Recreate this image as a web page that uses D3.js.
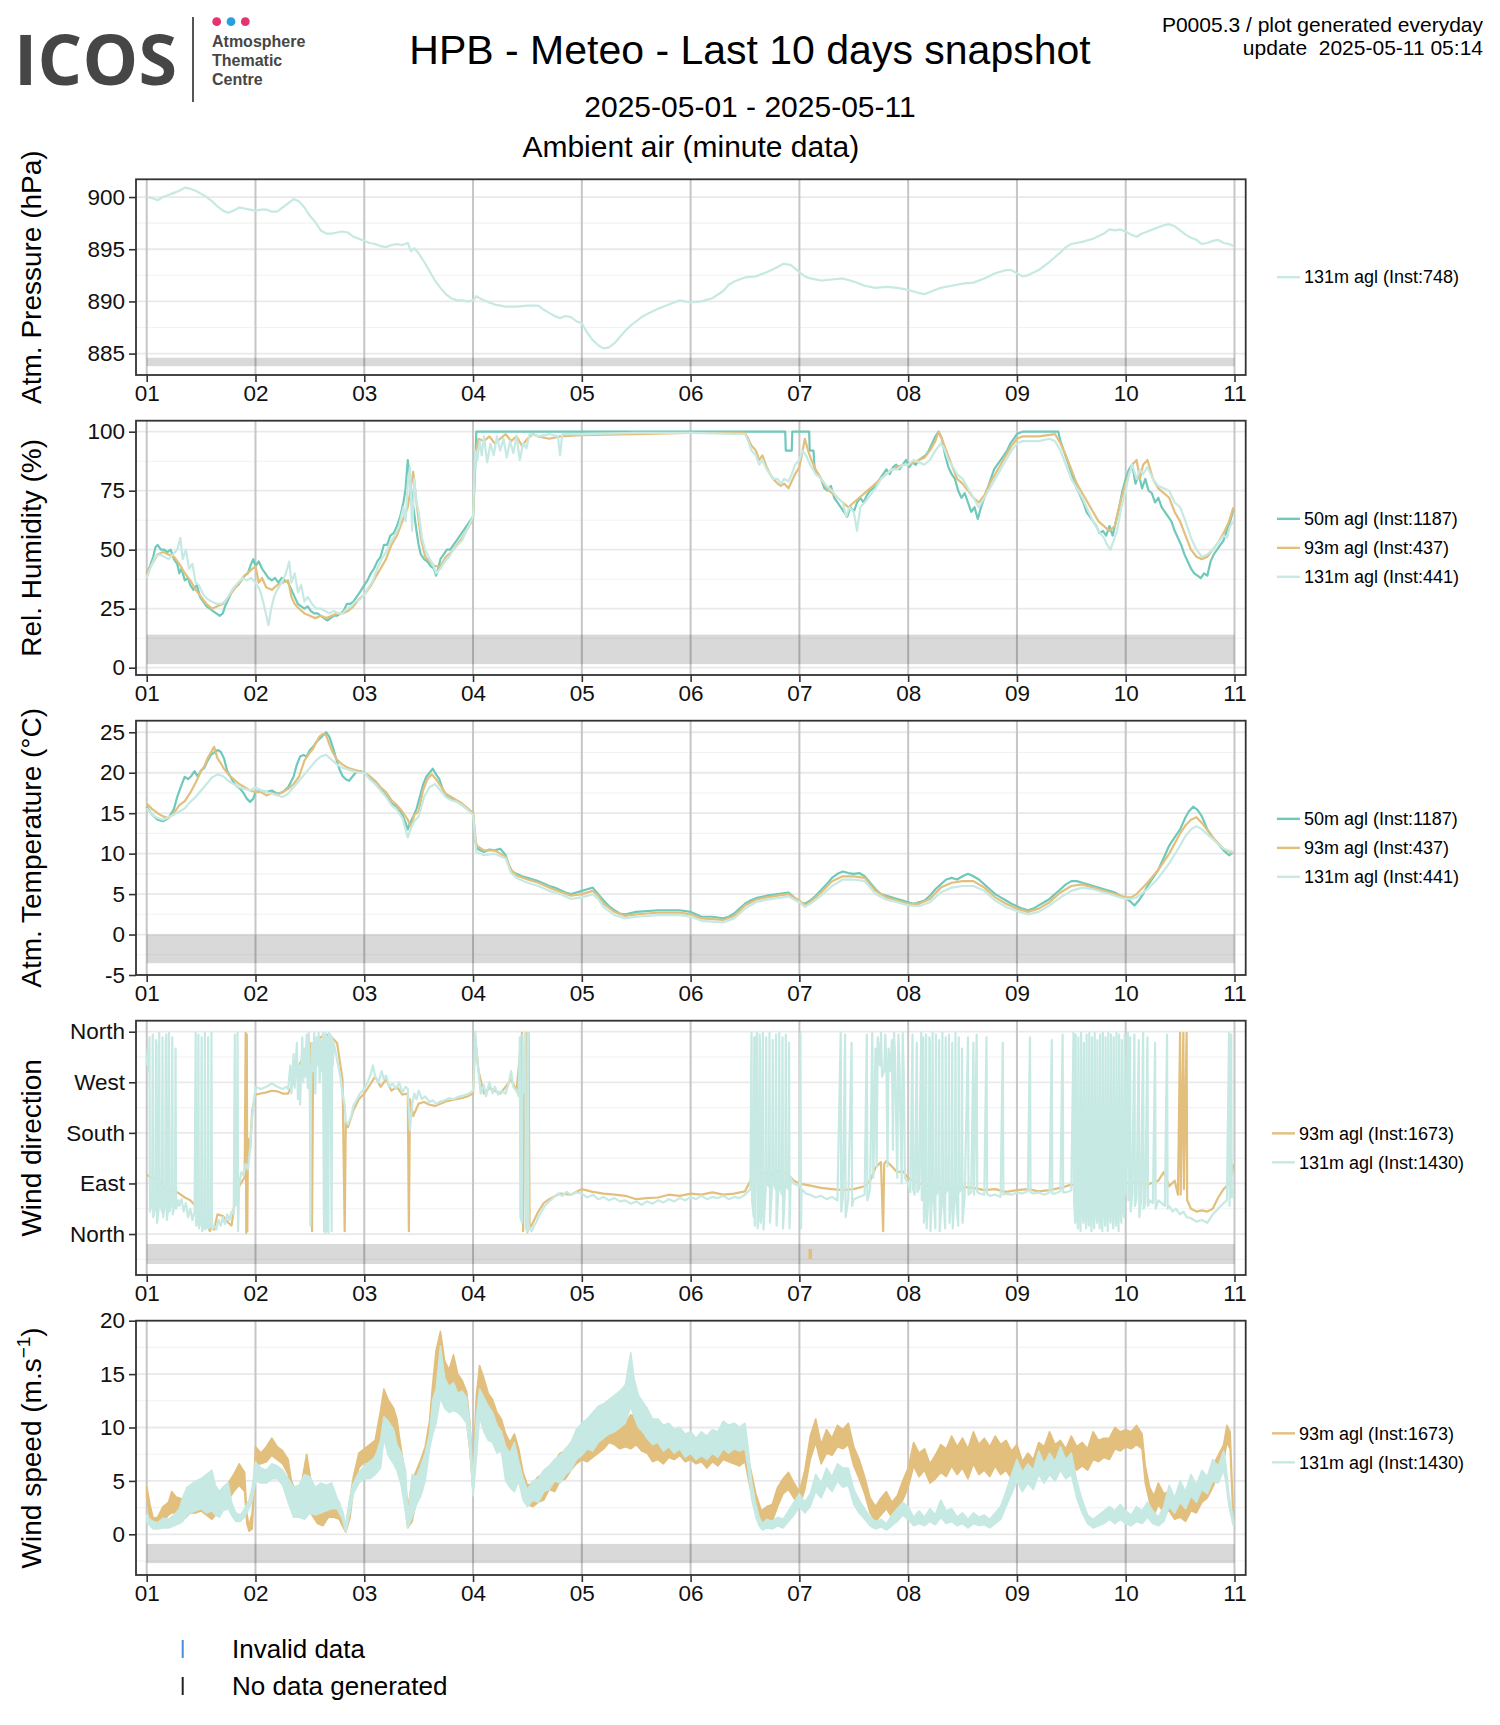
<!DOCTYPE html>
<html>
<head>
<meta charset="utf-8">
<script src="https://cdn.jsdelivr.net/npm/d3@7"></script>
<style>
body { margin: 0; background: #fff; }
text { font-family: "Liberation Sans", Arial, Helvetica, sans-serif; }
</style>
</head>
<body>
<svg width="1500" height="1725"></svg>
<script>
// ------------------DATA------------------
// day of month (decimal) and value
var dies = [1, 2, 3, 4, 5, 6, 7, 8, 9, 10, 11];

var pressio131 = [[1.00,900.0],[1.05,899.9],[1.10,899.7],[1.15,900.0],[1.20,900.2],[1.25,900.4],[1.30,900.6],[1.35,900.9],[1.40,900.8],[1.45,900.6],[1.50,900.3],[1.55,900.0],[1.60,899.6],[1.65,899.1],[1.70,898.7],[1.75,898.5],[1.80,898.7],[1.85,899.0],[1.90,898.9],[1.95,898.8],[2.00,898.7],[2.05,898.8],[2.10,898.8],[2.15,898.6],[2.20,898.6],[2.25,899.0],[2.30,899.4],[2.35,899.8],[2.40,899.6],[2.45,899.0],[2.50,898.2],[2.55,897.6],[2.60,896.8],[2.65,896.5],[2.70,896.5],[2.75,896.6],[2.80,896.7],[2.85,896.6],[2.90,896.2],[2.95,896.0],[3.00,895.8],[3.05,895.6],[3.10,895.5],[3.15,895.3],[3.20,895.2],[3.25,895.4],[3.30,895.5],[3.35,895.4],[3.40,895.6],[3.43,894.8],[3.46,895.1],[3.50,894.6],[3.55,893.8],[3.60,892.9],[3.65,892.0],[3.70,891.3],[3.75,890.7],[3.80,890.3],[3.85,890.1],[3.90,890.1],[3.95,890.0],[4.00,890.1],[4.03,890.5],[4.08,890.2],[4.15,889.9],[4.20,889.7],[4.30,889.5],[4.40,889.5],[4.50,889.6],[4.60,889.6],[4.65,889.2],[4.70,888.9],[4.75,888.6],[4.80,888.4],[4.85,888.6],[4.90,888.5],[4.95,888.1],[5.00,887.9],[5.05,887.0],[5.10,886.3],[5.15,885.8],[5.20,885.5],[5.25,885.6],[5.30,886.0],[5.35,886.6],[5.40,887.2],[5.45,887.7],[5.50,888.1],[5.55,888.5],[5.60,888.8],[5.70,889.3],[5.80,889.7],[5.90,890.1],[6.00,889.9],[6.10,890.0],[6.20,890.3],[6.30,891.0],[6.35,891.6],[6.40,891.9],[6.50,892.3],[6.60,892.4],[6.70,892.8],[6.80,893.3],[6.85,893.6],[6.92,893.5],[7.00,892.8],[7.05,892.4],[7.10,892.2],[7.20,892.0],[7.30,892.1],[7.40,892.2],[7.50,891.9],[7.60,891.5],[7.70,891.3],[7.80,891.4],[7.90,891.3],[8.00,891.1],[8.10,890.8],[8.15,890.7],[8.20,890.9],[8.30,891.3],[8.40,891.5],[8.50,891.7],[8.60,891.8],[8.70,892.2],[8.80,892.7],[8.90,893.0],[8.95,893.0],[9.00,892.7],[9.05,892.4],[9.10,892.5],[9.20,893.0],[9.30,893.8],[9.40,894.7],[9.45,895.2],[9.50,895.5],[9.60,895.7],[9.70,896.0],[9.80,896.5],[9.85,896.9],[9.90,896.8],[9.95,896.9],[10.00,896.7],[10.05,896.4],[10.10,896.2],[10.15,896.5],[10.20,896.7],[10.25,896.9],[10.30,897.1],[10.35,897.3],[10.40,897.4],[10.45,897.2],[10.50,896.8],[10.55,896.4],[10.60,896.1],[10.65,895.9],[10.70,895.5],[10.75,895.6],[10.80,895.8],[10.85,895.9],[10.90,895.6],[10.95,895.5],[10.99,895.3]];

var humitat50 = [[1.00,40],[1.03,43],[1.06,47],[1.08,51],[1.10,52],[1.13,50],[1.16,50],[1.19,49],[1.22,50],[1.25,46],[1.28,44],[1.30,40],[1.32,42],[1.35,37],[1.38,38],[1.40,35],[1.43,33],[1.46,35],[1.49,30],[1.52,28],[1.55,26],[1.58,25],[1.61,24],[1.64,23],[1.67,22],[1.70,23],[1.72,26],[1.75,29],[1.78,32],[1.81,34],[1.84,35],[1.87,37],[1.90,39],[1.93,40],[1.96,44],[1.98,46],[2.00,43],[2.03,45],[2.06,42],[2.09,40],[2.12,38],[2.15,37],[2.18,38],[2.21,36],[2.24,38],[2.27,37],[2.30,36],[2.33,33],[2.36,30],[2.39,27],[2.42,26],[2.45,25],[2.48,26],[2.51,24],[2.54,23],[2.57,23],[2.60,22],[2.63,21],[2.66,20],[2.69,21],[2.72,22],[2.75,22],[2.78,23],[2.81,24],[2.84,27],[2.87,27],[2.90,28],[2.93,30],[2.96,32],[3.00,35],[3.03,37],[3.06,40],[3.09,42],[3.12,45],[3.15,47],[3.18,52],[3.21,52],[3.24,56],[3.27,57],[3.30,60],[3.33,64],[3.36,70],[3.38,76],[3.40,88],[3.42,80],[3.44,72],[3.46,65],[3.48,58],[3.50,52],[3.52,48],[3.55,46],[3.58,45],[3.61,43],[3.64,42],[3.66,39],[3.68,42],[3.70,46],[3.73,48],[3.76,50],[3.79,50],[3.82,52],[3.85,54],[3.88,56],[3.91,58],[3.94,60],[3.97,62],[4.00,64],[4.02,85],[4.03,100],[6.50,100],[6.87,100],[6.875,92],[6.93,92],[6.935,100],[7.09,100],[7.095,92],[7.13,92],[7.14,84],[7.17,82],[7.20,80],[7.23,76],[7.26,75],[7.29,77],[7.32,72],[7.35,70],[7.38,68],[7.41,66],[7.44,64],[7.47,68],[7.50,66],[7.53,70],[7.56,72],[7.59,70],[7.62,73],[7.65,75],[7.68,76],[7.71,78],[7.74,80],[7.77,82],[7.80,84],[7.83,82],[7.86,85],[7.89,86],[7.92,84],[7.95,86],[7.98,88],[8.01,85],[8.04,87],[8.07,86],[8.10,88],[8.13,89],[8.16,90],[8.19,92],[8.22,95],[8.25,98],[8.28,100],[8.31,97],[8.34,90],[8.37,85],[8.40,82],[8.43,80],[8.46,75],[8.49,72],[8.52,74],[8.55,70],[8.58,66],[8.61,68],[8.64,63],[8.67,68],[8.70,72],[8.73,76],[8.76,80],[8.79,84],[8.82,86],[8.85,88],[8.88,90],[8.91,92],[8.94,95],[8.97,97],[9.00,99],[9.05,100],[9.38,100],[9.40,96],[9.43,92],[9.46,88],[9.49,84],[9.52,80],[9.55,76],[9.58,73],[9.61,70],[9.64,66],[9.67,64],[9.70,62],[9.73,60],[9.76,57],[9.79,58],[9.82,56],[9.85,60],[9.88,56],[9.91,62],[9.94,68],[9.97,75],[10.00,80],[10.03,84],[10.06,86],[10.09,78],[10.12,82],[10.15,76],[10.18,80],[10.21,75],[10.24,74],[10.27,70],[10.30,72],[10.33,68],[10.36,66],[10.39,64],[10.42,62],[10.45,58],[10.48,55],[10.51,52],[10.54,48],[10.57,45],[10.60,42],[10.63,40],[10.66,39],[10.69,38],[10.72,40],[10.75,39],[10.78,45],[10.81,48],[10.84,50],[10.87,52],[10.90,54],[10.93,58],[10.96,62],[10.99,67]];

var humitat93 = [[1.00,40],[1.05,44],[1.10,48],[1.15,49],[1.20,48],[1.25,47],[1.30,44],[1.35,40],[1.40,37],[1.45,33],[1.50,30],[1.55,27],[1.60,25],[1.65,26],[1.70,27],[1.75,30],[1.80,33],[1.85,36],[1.90,39],[1.95,41],[2.00,43],[2.03,36],[2.06,38],[2.10,34],[2.15,33],[2.20,35],[2.25,36],[2.30,37],[2.33,30],[2.36,27],[2.40,25],[2.45,23],[2.50,22],[2.55,21],[2.60,22],[2.65,21],[2.70,22],[2.75,23],[2.80,23],[2.85,24],[2.90,26],[2.95,29],[3.00,31],[3.05,34],[3.10,38],[3.15,42],[3.20,46],[3.25,52],[3.30,56],[3.35,62],[3.40,68],[3.45,83],[3.48,70],[3.52,55],[3.56,47],[3.60,45],[3.65,43],[3.70,43],[3.75,47],[3.80,49],[3.85,52],[3.90,55],[3.95,59],[4.00,63],[4.02,90],[4.05,97],[4.10,96],[4.15,98],[4.20,95],[4.25,97],[4.30,99],[4.35,96],[4.40,98],[4.45,94],[4.50,97],[4.55,99],[4.60,98],[4.70,97],[4.80,98],[5.00,98.5],[5.50,99],[6.00,99.5],[6.50,99.5],[6.53,97],[6.56,94],[6.60,92],[6.63,88],[6.66,90],[6.70,85],[6.73,82],[6.76,80],[6.80,78],[6.83,77],[6.86,78],[6.90,76],[6.93,79],[6.96,82],[7.00,85],[7.03,92],[7.05,97],[7.08,92],[7.11,88],[7.15,84],[7.20,80],[7.25,76],[7.30,74],[7.35,72],[7.40,70],[7.45,68],[7.50,70],[7.55,72],[7.60,74],[7.65,76],[7.70,78],[7.75,80],[7.80,82],[7.85,84],[7.90,85],[7.95,86],[8.00,86],[8.05,87],[8.10,88],[8.15,89],[8.20,92],[8.25,96],[8.28,100],[8.31,97],[8.35,92],[8.40,86],[8.45,80],[8.50,78],[8.55,75],[8.60,72],[8.65,70],[8.70,73],[8.75,78],[8.80,82],[8.85,86],[8.90,90],[8.95,94],[9.00,97],[9.05,98],[9.20,98],[9.35,99],[9.40,95],[9.45,90],[9.50,84],[9.55,78],[9.60,74],[9.65,70],[9.70,66],[9.75,62],[9.80,60],[9.85,58],[9.90,60],[9.95,70],[10.00,78],[10.03,82],[10.06,86],[10.10,88],[10.13,80],[10.16,86],[10.20,88],[10.25,80],[10.30,76],[10.35,74],[10.40,72],[10.45,66],[10.50,62],[10.55,56],[10.60,50],[10.65,47],[10.70,46],[10.75,47],[10.80,50],[10.85,53],[10.90,57],[10.95,62],[10.99,68]];

var humitat131 = [[1.00,38],[1.04,43],[1.08,47],[1.12,48],[1.16,47],[1.20,46],[1.24,48],[1.28,50],[1.31,55],[1.33,46],[1.36,50],[1.39,42],[1.42,44],[1.45,36],[1.48,35],[1.52,31],[1.56,29],[1.60,28],[1.64,27],[1.68,27],[1.72,28],[1.76,31],[1.80,34],[1.84,36],[1.88,38],[1.92,37],[1.96,38],[2.00,36],[2.04,33],[2.07,28],[2.10,22],[2.12,18],[2.14,24],[2.17,30],[2.20,33],[2.24,36],[2.28,40],[2.31,45],[2.33,36],[2.36,40],[2.39,32],[2.42,35],[2.45,28],[2.48,30],[2.52,27],[2.56,25],[2.60,25],[2.64,24],[2.68,23],[2.72,24],[2.76,23],[2.80,23],[2.84,25],[2.88,26],[2.92,28],[2.96,29],[3.00,31],[3.04,34],[3.08,37],[3.12,42],[3.16,46],[3.20,49],[3.24,53],[3.28,56],[3.32,60],[3.36,68],[3.38,62],[3.40,78],[3.42,85],[3.44,58],[3.46,80],[3.48,70],[3.50,66],[3.53,55],[3.56,50],[3.60,46],[3.63,44],[3.66,40],[3.70,42],[3.74,45],[3.78,47],[3.82,50],[3.86,52],[3.90,54],[3.94,58],[3.98,62],[4.00,64],[4.02,92],[4.04,88],[4.06,96],[4.08,90],[4.10,98],[4.13,87],[4.16,95],[4.19,90],[4.22,98],[4.25,92],[4.28,97],[4.31,89],[4.34,96],[4.37,91],[4.40,98],[4.43,88],[4.46,95],[4.49,93],[4.52,99],[4.60,98],[4.70,99],[4.78,98],[4.80,90],[4.82,99],[5.00,99],[5.50,99.5],[6.00,99.5],[6.50,99],[6.53,96],[6.56,92],[6.60,90],[6.63,86],[6.66,88],[6.70,84],[6.73,82],[6.76,80],[6.80,80],[6.83,78],[6.86,80],[6.90,79],[6.93,82],[6.96,86],[7.00,88],[7.03,92],[7.06,90],[7.10,86],[7.15,82],[7.20,80],[7.25,77],[7.30,75],[7.35,72],[7.40,70],[7.43,64],[7.46,68],[7.50,66],[7.53,58],[7.56,68],[7.60,70],[7.65,73],[7.70,76],[7.75,80],[7.80,82],[7.85,84],[7.90,84],[7.95,86],[8.00,86],[8.05,88],[8.10,87],[8.15,86],[8.20,88],[8.25,92],[8.30,95],[8.33,93],[8.37,88],[8.40,86],[8.45,82],[8.50,80],[8.55,76],[8.60,72],[8.65,68],[8.70,72],[8.75,76],[8.80,80],[8.85,84],[8.90,88],[8.95,92],[9.00,95],[9.05,96],[9.20,96],[9.30,97],[9.35,96],[9.40,92],[9.45,86],[9.50,80],[9.55,76],[9.60,72],[9.65,67],[9.70,62],[9.75,58],[9.80,55],[9.83,52],[9.86,50],[9.89,54],[9.92,58],[9.96,68],[10.00,75],[10.03,82],[10.06,86],[10.10,80],[10.13,84],[10.16,82],[10.20,85],[10.25,80],[10.30,77],[10.35,76],[10.40,75],[10.45,70],[10.50,68],[10.55,62],[10.60,55],[10.65,50],[10.70,47],[10.75,48],[10.80,50],[10.85,53],[10.90,56],[10.93,55],[10.96,60],[10.99,62]];

var temperatura50 = [[1.00,15.8],[1.05,14.8],[1.10,14.2],[1.15,14.0],[1.20,14.4],[1.25,15.5],[1.28,17.0],[1.32,18.5],[1.35,19.5],[1.38,19.2],[1.41,19.6],[1.44,20.2],[1.47,19.5],[1.50,20.3],[1.53,20.6],[1.56,21.5],[1.59,22.2],[1.62,22.5],[1.65,22.8],[1.68,22.6],[1.71,21.8],[1.74,20.2],[1.77,19.5],[1.80,18.8],[1.83,18.3],[1.86,18.0],[1.89,17.5],[1.92,16.8],[1.95,16.4],[1.98,16.8],[2.00,17.6],[2.05,17.8],[2.10,17.6],[2.15,17.8],[2.20,17.4],[2.25,17.6],[2.30,18.2],[2.35,19.5],[2.38,21.0],[2.41,22.0],[2.44,22.2],[2.47,22.0],[2.50,22.8],[2.53,23.2],[2.56,23.8],[2.59,24.2],[2.62,24.6],[2.65,25.0],[2.68,24.4],[2.71,23.2],[2.74,21.8],[2.77,20.5],[2.80,19.6],[2.83,19.2],[2.86,19.0],[2.89,19.5],[2.92,20.0],[2.96,20.2],[3.00,20.0],[3.05,19.4],[3.10,18.8],[3.15,18.0],[3.20,17.2],[3.25,16.2],[3.30,15.8],[3.35,14.8],[3.38,13.8],[3.40,13.0],[3.42,13.8],[3.45,14.6],[3.48,15.5],[3.51,17.0],[3.54,18.5],[3.57,19.5],[3.60,20.0],[3.63,20.5],[3.66,19.8],[3.69,19.2],[3.72,18.0],[3.75,17.2],[3.80,16.8],[3.85,16.5],[3.90,16.0],[3.95,15.5],[4.00,15.0],[4.02,11.5],[4.05,10.5],[4.10,10.2],[4.15,10.5],[4.20,10.4],[4.25,10.6],[4.30,9.8],[4.33,8.5],[4.36,7.8],[4.40,7.5],[4.45,7.2],[4.50,7.0],[4.55,6.8],[4.60,6.6],[4.65,6.3],[4.70,6.0],[4.75,5.8],[4.80,5.5],[4.85,5.2],[4.90,5.0],[4.95,5.2],[5.00,5.4],[5.05,5.6],[5.10,5.8],[5.15,5.0],[5.20,4.2],[5.25,3.5],[5.30,3.0],[5.35,2.6],[5.40,2.5],[5.50,2.8],[5.60,2.9],[5.70,3.0],[5.80,3.0],[5.90,3.0],[6.00,2.8],[6.05,2.5],[6.10,2.2],[6.20,2.2],[6.30,2.0],[6.35,2.2],[6.40,2.6],[6.45,3.2],[6.50,3.8],[6.55,4.2],[6.60,4.5],[6.70,4.8],[6.80,5.0],[6.90,5.2],[6.95,4.6],[7.00,4.0],[7.05,3.8],[7.10,4.2],[7.15,4.8],[7.20,5.5],[7.25,6.2],[7.30,7.0],[7.35,7.5],[7.40,7.8],[7.45,7.6],[7.50,7.5],[7.55,7.6],[7.60,7.2],[7.65,6.4],[7.70,5.6],[7.75,5.0],[7.80,4.8],[7.85,4.6],[7.90,4.4],[7.95,4.2],[8.00,4.0],[8.05,3.8],[8.10,4.0],[8.15,4.2],[8.20,4.8],[8.25,5.6],[8.30,6.2],[8.35,6.8],[8.40,7.0],[8.45,6.8],[8.50,7.2],[8.55,7.5],[8.60,7.2],[8.65,6.8],[8.70,6.2],[8.75,5.6],[8.80,5.0],[8.85,4.6],[8.90,4.2],[8.95,3.8],[9.00,3.5],[9.05,3.2],[9.10,3.0],[9.15,3.2],[9.20,3.6],[9.25,4.0],[9.30,4.4],[9.35,5.0],[9.40,5.6],[9.45,6.2],[9.50,6.6],[9.55,6.6],[9.60,6.4],[9.65,6.2],[9.70,6.0],[9.75,5.8],[9.80,5.6],[9.85,5.4],[9.90,5.2],[9.95,4.8],[10.00,4.5],[10.05,4.0],[10.08,3.6],[10.12,4.2],[10.16,5.0],[10.20,6.0],[10.25,7.0],[10.30,8.0],[10.35,9.5],[10.40,11.0],[10.45,12.0],[10.50,13.0],[10.55,14.5],[10.58,15.2],[10.62,15.8],[10.66,15.4],[10.70,14.6],[10.75,13.0],[10.80,12.0],[10.85,11.2],[10.90,10.4],[10.95,9.8],[10.99,10.2]];

var temperatura93 = [[1.00,16.2],[1.05,15.5],[1.10,15.0],[1.15,14.6],[1.20,14.4],[1.25,15.0],[1.30,16.0],[1.35,16.5],[1.40,17.5],[1.45,18.8],[1.50,20.2],[1.53,20.8],[1.56,21.8],[1.59,22.5],[1.62,23.2],[1.65,21.8],[1.68,21.2],[1.71,20.5],[1.75,19.8],[1.80,19.2],[1.85,18.6],[1.90,18.2],[1.95,17.8],[2.00,17.6],[2.05,17.6],[2.10,17.2],[2.15,17.5],[2.20,17.3],[2.25,17.6],[2.30,18.0],[2.35,18.6],[2.40,19.5],[2.45,21.5],[2.50,22.5],[2.53,23.0],[2.56,23.8],[2.59,24.5],[2.62,24.8],[2.65,24.6],[2.68,23.5],[2.71,22.5],[2.75,21.6],[2.80,21.0],[2.85,20.6],[2.90,20.4],[2.95,20.2],[3.00,20.0],[3.05,19.6],[3.10,19.0],[3.15,18.2],[3.20,17.6],[3.25,16.6],[3.30,16.0],[3.35,15.2],[3.40,14.2],[3.43,13.2],[3.46,14.8],[3.50,15.2],[3.54,17.8],[3.58,19.2],[3.62,19.8],[3.66,19.2],[3.70,18.4],[3.75,17.4],[3.80,17.0],[3.85,16.6],[3.90,16.2],[3.95,15.6],[4.00,15.0],[4.03,11.0],[4.10,10.4],[4.20,10.4],[4.30,9.6],[4.35,8.0],[4.40,7.3],[4.50,6.8],[4.60,6.4],[4.70,5.8],[4.80,5.3],[4.90,4.8],[5.00,5.0],[5.10,5.4],[5.15,4.8],[5.20,3.8],[5.30,2.8],[5.40,2.3],[5.50,2.5],[5.60,2.6],[5.70,2.7],[5.80,2.7],[5.90,2.7],[6.00,2.5],[6.10,2.0],[6.20,1.9],[6.30,1.8],[6.40,2.3],[6.50,3.6],[6.60,4.3],[6.70,4.6],[6.80,4.8],[6.90,5.0],[7.00,4.2],[7.05,3.6],[7.10,4.0],[7.20,5.2],[7.30,6.6],[7.40,7.2],[7.50,7.2],[7.60,7.0],[7.70,5.4],[7.80,4.6],[7.90,4.2],[8.00,3.8],[8.10,3.8],[8.20,4.4],[8.30,5.8],[8.40,6.4],[8.50,6.6],[8.60,6.6],[8.70,5.8],[8.80,4.6],[8.90,3.8],[9.00,3.2],[9.10,2.8],[9.20,3.2],[9.30,4.0],[9.40,5.2],[9.50,6.0],[9.60,6.2],[9.70,5.8],[9.80,5.4],[9.90,5.0],[10.00,4.6],[10.05,4.6],[10.10,5.0],[10.20,6.4],[10.30,8.0],[10.40,10.0],[10.50,12.5],[10.55,13.5],[10.60,14.2],[10.65,14.5],[10.70,13.8],[10.80,12.0],[10.90,10.6],[10.99,10.0]];

var temperatura131 = [[1.00,15.6],[1.05,14.8],[1.10,14.4],[1.15,14.2],[1.20,14.5],[1.25,14.8],[1.30,15.2],[1.35,15.6],[1.40,16.4],[1.45,17.0],[1.50,17.8],[1.55,18.6],[1.60,19.4],[1.65,19.8],[1.70,19.6],[1.75,19.0],[1.80,18.6],[1.85,18.2],[1.90,18.0],[1.95,17.8],[2.00,18.2],[2.05,17.8],[2.10,17.6],[2.15,17.4],[2.20,17.2],[2.25,17.0],[2.30,17.4],[2.35,18.2],[2.40,19.0],[2.45,19.8],[2.50,20.6],[2.55,21.4],[2.60,22.0],[2.65,22.2],[2.70,21.6],[2.75,21.0],[2.80,20.6],[2.85,20.4],[2.90,20.2],[2.95,20.0],[3.00,20.0],[3.05,19.2],[3.10,18.6],[3.15,17.8],[3.20,17.0],[3.25,16.0],[3.30,15.4],[3.35,14.4],[3.38,13.0],[3.40,12.0],[3.43,13.2],[3.46,14.0],[3.50,14.6],[3.55,17.0],[3.60,18.2],[3.65,18.6],[3.70,17.8],[3.75,17.0],[3.80,16.6],[3.85,16.4],[3.90,16.0],[3.95,15.4],[4.00,14.8],[4.03,10.2],[4.10,9.8],[4.20,10.0],[4.30,9.4],[4.35,7.6],[4.40,7.0],[4.50,6.4],[4.60,6.0],[4.70,5.4],[4.80,5.0],[4.90,4.4],[5.00,4.6],[5.10,5.0],[5.15,4.4],[5.20,3.4],[5.30,2.4],[5.40,2.0],[5.50,2.2],[5.60,2.3],[5.70,2.4],[5.80,2.4],[5.90,2.4],[6.00,2.2],[6.10,1.7],[6.20,1.6],[6.30,1.5],[6.40,2.0],[6.50,3.2],[6.60,4.0],[6.70,4.3],[6.80,4.5],[6.90,4.7],[7.00,4.0],[7.05,3.4],[7.10,3.8],[7.20,4.8],[7.30,6.0],[7.40,6.8],[7.50,6.8],[7.60,6.6],[7.70,5.0],[7.80,4.3],[7.90,4.0],[8.00,3.6],[8.10,3.5],[8.20,4.0],[8.30,5.2],[8.40,5.8],[8.50,6.0],[8.60,6.0],[8.70,5.4],[8.80,4.2],[8.90,3.4],[9.00,2.9],[9.10,2.5],[9.20,2.8],[9.30,3.6],[9.40,4.6],[9.50,5.4],[9.60,5.8],[9.70,5.6],[9.80,5.2],[9.90,4.8],[10.00,4.4],[10.05,4.4],[10.10,4.6],[10.20,5.6],[10.30,7.0],[10.40,8.8],[10.50,11.0],[10.55,12.2],[10.60,13.0],[10.65,13.4],[10.70,13.0],[10.80,11.8],[10.90,10.6],[10.99,10.2]];

var direccio93 = [[1.00,105],[1.05,100],[1.10,95],[1.15,85],[1.20,80],[1.25,78],[1.30,72],[1.35,65],[1.40,60],[1.45,50],[1.50,40],[1.55,20],[1.58,5],[1.60,15],[1.62,8],[1.65,35],[1.70,32],[1.75,20],[1.78,15],[1.80,45],[1.85,85],[1.88,95],[1.90,100],[1.91,358],[1.915,2],[1.92,355],[1.925,5],[1.93,170],[1.95,150],[1.97,220],[2.00,248],[2.05,250],[2.10,252],[2.15,255],[2.20,254],[2.25,250],[2.30,250],[2.35,270],[2.40,300],[2.45,320],[2.50,340],[2.52,5],[2.53,330],[2.55,345],[2.60,350],[2.65,355],[2.70,350],[2.75,340],[2.80,275],[2.82,5],[2.83,200],[2.85,190],[2.90,220],[2.95,240],[3.00,250],[3.05,265],[3.10,280],[3.15,262],[3.20,275],[3.25,255],[3.30,262],[3.35,248],[3.40,250],[3.41,5],[3.42,240],[3.45,210],[3.50,232],[3.55,235],[3.60,230],[3.65,228],[3.70,232],[3.75,236],[3.80,238],[3.85,240],[3.90,242],[3.95,245],[4.00,250],[4.02,350],[4.05,290],[4.10,250],[4.15,260],[4.20,255],[4.25,250],[4.30,262],[4.35,275],[4.40,255],[4.45,358],[4.46,5],[4.47,250],[4.49,358],[4.50,3],[4.51,358],[4.52,10],[4.55,20],[4.60,40],[4.65,55],[4.70,62],[4.80,72],[4.90,70],[5.00,80],[5.10,75],[5.20,72],[5.30,70],[5.40,68],[5.50,62],[5.60,64],[5.70,65],[5.80,70],[5.90,68],[6.00,72],[6.10,70],[6.20,74],[6.30,70],[6.40,72],[6.50,76],[6.55,95],[6.60,100],[6.70,110],[6.75,105],[6.80,112],[6.85,110],[6.90,105],[6.95,95],[7.00,90],[7.05,88],[7.10,86],[7.20,82],[7.30,80],[7.40,78],[7.50,80],[7.60,85],[7.65,95],[7.70,118],[7.75,128],[7.77,5],[7.78,125],[7.80,130],[7.85,120],[7.90,110],[7.95,112],[8.00,100],[8.05,95],[8.10,90],[8.20,85],[8.30,82],[8.40,80],[8.50,84],[8.60,82],[8.70,78],[8.80,80],[8.90,75],[9.00,78],[9.10,80],[9.20,76],[9.30,78],[9.40,82],[9.50,88],[9.60,86],[9.70,90],[9.80,90],[9.90,88],[10.00,90],[10.10,92],[10.20,88],[10.30,95],[10.35,110],[10.40,85],[10.45,95],[10.48,70],[10.50,358],[10.505,70],[10.53,358],[10.535,80],[10.56,358],[10.565,60],[10.60,45],[10.65,40],[10.70,42],[10.75,40],[10.80,45],[10.85,65],[10.90,80],[10.95,90],[10.98,110],[10.99,125]];
// isolated 93m mark inside the flag strip
var marques93 = [7.1];

var direccio131 = [[1.00,300],[1.01,330],[1.02,290],[1.025,350],[1.03,40],[1.05,60],[1.055,355],[1.06,30],[1.08,50],[1.085,345],[1.09,340],[1.095,20],[1.11,45],[1.115,358],[1.12,60],[1.14,40],[1.145,350],[1.15,30],[1.17,55],[1.175,340],[1.18,355],[1.185,25],[1.20,50],[1.205,358],[1.21,40],[1.23,65],[1.235,350],[1.24,35],[1.26,55],[1.265,330],[1.27,45],[1.29,60],[1.30,50],[1.32,62],[1.34,40],[1.36,55],[1.38,30],[1.40,45],[1.42,25],[1.44,40],[1.45,358],[1.455,15],[1.47,20],[1.475,355],[1.48,10],[1.50,25],[1.505,350],[1.51,5],[1.53,15],[1.535,358],[1.54,8],[1.56,20],[1.565,350],[1.57,10],[1.59,15],[1.595,358],[1.60,8],[1.62,15],[1.64,8],[1.66,25],[1.68,15],[1.70,30],[1.72,18],[1.74,35],[1.76,25],[1.78,40],[1.80,35],[1.81,355],[1.815,50],[1.83,60],[1.835,358],[1.84,5],[1.85,90],[1.87,110],[1.89,105],[1.91,125],[1.93,115],[1.95,150],[1.97,210],[1.99,245],[2.00,262],[2.05,258],[2.10,262],[2.15,268],[2.20,262],[2.25,258],[2.28,262],[2.30,258],[2.32,300],[2.33,250],[2.35,320],[2.36,260],[2.38,340],[2.39,240],[2.40,300],[2.41,230],[2.43,350],[2.44,270],[2.45,330],[2.46,280],[2.47,355],[2.48,260],[2.49,358],[2.50,240],[2.505,15],[2.51,250],[2.52,340],[2.53,290],[2.54,358],[2.55,250],[2.56,350],[2.57,300],[2.58,358],[2.59,270],[2.60,345],[2.61,290],[2.62,358],[2.63,5],[2.635,355],[2.64,2],[2.645,358],[2.65,5],[2.66,350],[2.67,2],[2.675,358],[2.68,300],[2.69,355],[2.70,5],[2.705,350],[2.71,300],[2.72,340],[2.74,320],[2.76,300],[2.78,280],[2.80,250],[2.82,230],[2.83,200],[2.85,195],[2.88,210],[2.90,228],[2.93,238],[2.96,250],[3.00,258],[3.03,270],[3.06,285],[3.08,300],[3.10,280],[3.13,270],[3.16,290],[3.18,275],[3.20,282],[3.23,262],[3.26,268],[3.29,258],[3.32,270],[3.35,252],[3.38,262],[3.40,258],[3.42,185],[3.44,230],[3.46,250],[3.48,240],[3.50,255],[3.53,240],[3.56,245],[3.60,235],[3.63,238],[3.66,232],[3.70,236],[3.74,238],[3.78,242],[3.82,240],[3.86,244],[3.90,246],[3.94,248],[3.98,252],[4.00,256],[4.01,290],[4.02,360],[4.03,330],[4.05,290],[4.07,250],[4.10,265],[4.12,245],[4.15,270],[4.18,250],[4.20,262],[4.23,248],[4.26,255],[4.30,250],[4.33,270],[4.35,290],[4.37,262],[4.40,255],[4.42,245],[4.43,350],[4.435,30],[4.45,20],[4.455,355],[4.46,280],[4.475,250],[4.48,358],[4.485,10],[4.50,5],[4.505,358],[4.51,20],[4.52,10],[4.54,5],[4.56,15],[4.58,20],[4.60,30],[4.63,40],[4.66,50],[4.70,58],[4.74,65],[4.78,72],[4.82,68],[4.86,75],[4.90,70],[4.95,74],[5.00,72],[5.05,65],[5.10,70],[5.15,62],[5.20,66],[5.25,60],[5.30,64],[5.35,58],[5.40,60],[5.45,54],[5.50,58],[5.55,52],[5.60,58],[5.65,54],[5.70,60],[5.75,56],[5.80,62],[5.85,58],[5.90,64],[5.95,60],[6.00,66],[6.05,62],[6.10,68],[6.15,62],[6.20,66],[6.25,64],[6.30,68],[6.35,62],[6.40,66],[6.45,64],[6.50,70],[6.55,80],[6.56,358],[6.565,60],[6.58,30],[6.585,350],[6.59,15],[6.60,340],[6.61,358],[6.615,10],[6.63,40],[6.635,355],[6.64,320],[6.645,20],[6.66,60],[6.665,358],[6.67,8],[6.69,80],[6.695,350],[6.70,90],[6.72,85],[6.725,358],[6.73,20],[6.75,90],[6.755,345],[6.76,95],[6.78,80],[6.785,355],[6.79,15],[6.81,90],[6.815,358],[6.82,85],[6.84,70],[6.845,350],[6.85,10],[6.87,90],[6.875,355],[6.88,85],[6.90,80],[6.905,340],[6.91,10],[6.92,100],[6.95,90],[7.00,85],[7.01,358],[7.015,10],[7.02,80],[7.06,72],[7.10,70],[7.15,65],[7.20,68],[7.25,62],[7.30,66],[7.35,60],[7.38,358],[7.385,40],[7.40,66],[7.42,355],[7.425,30],[7.45,64],[7.48,340],[7.485,50],[7.50,62],[7.55,66],[7.60,70],[7.62,355],[7.625,60],[7.65,80],[7.67,358],[7.68,100],[7.70,330],[7.71,120],[7.72,350],[7.74,300],[7.75,358],[7.76,280],[7.78,290],[7.79,355],[7.80,300],[7.81,120],[7.82,330],[7.84,290],[7.85,345],[7.86,150],[7.87,358],[7.88,310],[7.90,100],[7.91,355],[7.92,300],[7.94,90],[7.95,358],[7.96,280],[7.97,100],[8.00,90],[8.02,75],[8.04,355],[8.045,80],[8.06,70],[8.08,340],[8.085,75],[8.10,80],[8.12,358],[8.125,60],[8.14,350],[8.145,20],[8.16,70],[8.165,355],[8.17,10],[8.19,80],[8.195,350],[8.20,340],[8.205,5],[8.22,75],[8.225,358],[8.23,85],[8.25,10],[8.255,355],[8.26,70],[8.28,80],[8.285,345],[8.29,5],[8.31,60],[8.315,358],[8.32,80],[8.34,10],[8.345,350],[8.35,75],[8.37,80],[8.375,355],[8.38,20],[8.40,70],[8.405,340],[8.41,10],[8.43,80],[8.435,358],[8.44,65],[8.46,15],[8.465,350],[8.47,75],[8.49,80],[8.495,330],[8.50,20],[8.52,70],[8.55,350],[8.555,70],[8.58,75],[8.60,340],[8.605,70],[8.63,355],[8.635,75],[8.66,72],[8.70,70],[8.72,350],[8.725,72],[8.75,68],[8.80,70],[8.85,66],[8.87,340],[8.875,70],[8.90,72],[8.95,70],[9.00,74],[9.05,72],[9.10,76],[9.12,350],[9.125,74],[9.15,72],[9.20,74],[9.25,70],[9.30,74],[9.32,345],[9.325,72],[9.35,72],[9.40,76],[9.42,355],[9.425,74],[9.45,74],[9.50,78],[9.52,358],[9.525,60],[9.535,20],[9.54,355],[9.545,70],[9.56,10],[9.565,350],[9.57,80],[9.585,5],[9.59,358],[9.595,70],[9.61,20],[9.615,340],[9.62,80],[9.635,10],[9.64,355],[9.645,60],[9.66,15],[9.665,358],[9.67,85],[9.685,5],[9.69,350],[9.695,75],[9.71,10],[9.715,358],[9.72,70],[9.735,20],[9.74,345],[9.745,80],[9.76,10],[9.765,355],[9.77,60],[9.785,5],[9.79,358],[9.795,80],[9.81,15],[9.815,350],[9.82,75],[9.835,5],[9.84,358],[9.845,60],[9.86,20],[9.865,355],[9.87,80],[9.885,10],[9.89,350],[9.895,70],[9.91,15],[9.915,358],[9.92,75],[9.935,5],[9.94,355],[9.945,65],[9.96,20],[9.965,345],[9.97,70],[9.985,30],[9.99,355],[9.995,70],[10.00,80],[10.02,358],[10.025,60],[10.04,350],[10.045,40],[10.06,70],[10.08,355],[10.085,50],[10.10,65],[10.12,345],[10.125,30],[10.14,60],[10.16,358],[10.165,45],[10.18,55],[10.20,350],[10.205,50],[10.22,60],[10.25,55],[10.27,340],[10.275,45],[10.30,60],[10.33,55],[10.36,50],[10.38,355],[10.385,45],[10.40,50],[10.43,40],[10.46,45],[10.50,35],[10.53,40],[10.56,30],[10.60,28],[10.65,22],[10.70,25],[10.75,20],[10.80,35],[10.85,45],[10.90,55],[10.93,60],[10.95,358],[10.955,50],[10.97,355],[10.975,65],[10.99,80]];

// wind speed: day, lowest and highest value of the minute noise
var velocitat93 = [[1.00,3.5,4.5],[1.03,1.2,2.8],[1.06,0.8,1.5],[1.10,0.8,1.6],[1.15,1.2,2.6],[1.20,1.8,3.0],[1.23,2.0,4.0],[1.27,2.0,3.5],[1.30,1.8,3.4],[1.35,1.5,3.2],[1.40,2.0,4.4],[1.45,2.0,4.2],[1.50,2.2,4.8],[1.55,1.8,3.8],[1.60,1.4,3.6],[1.65,2.0,3.4],[1.70,2.6,4.4],[1.75,3.2,4.8],[1.80,4.0,5.6],[1.85,4.6,6.6],[1.90,4.0,5.8],[1.92,1.0,2.0],[1.94,0.3,0.8],[1.97,0.5,2.0],[2.00,6.5,8.2],[2.05,6.6,7.6],[2.10,6.8,8.2],[2.15,7.4,9.0],[2.20,7.0,8.2],[2.25,6.6,7.8],[2.30,5.6,7.0],[2.33,3.2,5.0],[2.37,2.0,4.0],[2.42,1.6,4.6],[2.47,2.4,7.5],[2.52,1.8,4.4],[2.57,1.0,4.0],[2.62,0.8,4.2],[2.67,1.6,3.8],[2.72,1.6,3.4],[2.77,1.4,3.0],[2.80,0.8,1.6],[2.83,0.2,0.8],[2.87,1.6,3.4],[2.90,4.2,5.4],[2.95,6.2,7.6],[3.00,6.8,8.0],[3.05,6.6,8.4],[3.10,7.6,8.8],[3.15,9.0,11.6],[3.18,11.4,13.6],[3.22,9.6,12.6],[3.27,9.0,11.8],[3.30,8.4,10.8],[3.33,6.0,8.6],[3.37,3.0,6.0],[3.40,0.6,2.4],[3.44,1.2,5.0],[3.48,3.2,6.0],[3.52,4.0,7.0],[3.56,5.8,8.2],[3.60,9.0,10.6],[3.63,11.0,14.2],[3.66,13.5,17.2],[3.70,14.0,19.0],[3.74,13.0,16.2],[3.78,12.4,15.4],[3.82,13.0,16.8],[3.86,12.2,15.0],[3.90,11.4,14.4],[3.94,10.6,13.4],[3.97,8.0,10.6],[4.00,4.0,6.0],[4.03,8.0,13.0],[4.06,12.0,15.8],[4.10,10.4,14.6],[4.14,9.8,13.2],[4.18,9.6,12.6],[4.22,8.6,11.4],[4.26,8.8,10.8],[4.30,5.6,9.4],[4.34,4.8,8.6],[4.38,4.4,9.4],[4.42,5.8,8.0],[4.46,3.8,5.8],[4.50,2.8,4.6],[4.55,2.6,4.8],[4.60,3.0,5.4],[4.65,3.2,5.6],[4.70,4.2,6.2],[4.75,4.0,6.8],[4.80,5.0,7.6],[4.85,5.2,7.8],[4.90,6.0,8.6],[4.95,6.6,9.0],[5.00,7.0,9.6],[5.05,6.8,9.4],[5.10,7.2,10.0],[5.15,7.6,10.6],[5.20,8.0,11.0],[5.25,8.6,11.4],[5.30,8.4,11.6],[5.35,8.0,10.6],[5.40,8.2,10.4],[5.45,8.0,11.2],[5.50,8.4,11.0],[5.55,7.8,10.2],[5.60,7.6,9.8],[5.65,6.8,9.0],[5.70,7.0,9.0],[5.75,6.6,8.8],[5.80,7.2,9.6],[5.85,7.0,9.0],[5.90,7.4,9.4],[5.95,6.8,8.8],[6.00,7.0,9.0],[6.05,6.6,8.4],[6.10,6.8,8.6],[6.15,6.2,8.2],[6.20,6.8,8.8],[6.25,6.4,8.4],[6.30,7.0,9.2],[6.35,6.8,9.0],[6.40,6.6,8.6],[6.45,6.4,8.4],[6.50,6.8,8.6],[6.55,4.2,6.2],[6.60,2.4,3.8],[6.65,1.0,2.2],[6.70,0.8,2.6],[6.75,1.2,2.8],[6.80,2.6,4.4],[6.85,3.8,5.2],[6.90,4.2,5.8],[6.95,3.4,4.8],[7.00,2.6,4.0],[7.05,4.2,6.0],[7.10,7.0,9.2],[7.15,8.6,10.8],[7.20,6.6,8.4],[7.25,7.6,9.8],[7.30,7.4,9.0],[7.35,8.2,10.2],[7.40,8.0,9.8],[7.45,8.4,10.4],[7.50,6.4,8.2],[7.55,5.2,7.0],[7.60,3.8,5.4],[7.65,2.0,3.4],[7.70,1.2,2.6],[7.75,1.8,3.4],[7.80,2.4,4.0],[7.85,1.6,3.0],[7.90,2.4,3.6],[7.95,3.2,5.0],[8.00,4.4,6.2],[8.05,6.4,8.6],[8.10,5.4,7.6],[8.15,6.0,8.0],[8.20,4.8,6.6],[8.25,5.2,7.4],[8.30,5.8,8.4],[8.35,5.4,8.0],[8.40,6.4,9.2],[8.45,5.6,8.2],[8.50,6.2,9.0],[8.55,5.2,8.0],[8.60,6.6,9.6],[8.65,5.6,8.4],[8.70,6.0,9.0],[8.75,5.4,8.2],[8.80,6.4,9.2],[8.85,5.6,8.4],[8.90,6.0,8.8],[8.95,5.2,7.8],[9.00,5.8,8.4],[9.05,4.8,6.8],[9.10,5.6,7.6],[9.15,5.2,7.0],[9.20,6.4,8.6],[9.25,6.0,8.2],[9.30,6.8,9.6],[9.35,6.2,8.4],[9.40,6.6,8.8],[9.45,5.8,8.0],[9.50,6.6,9.2],[9.55,6.0,8.2],[9.60,6.4,8.6],[9.65,6.0,8.0],[9.70,7.0,9.6],[9.75,6.8,8.8],[9.80,7.2,9.0],[9.85,7.0,9.0],[9.90,8.0,10.0],[9.95,7.8,9.6],[10.00,8.2,9.8],[10.05,8.0,9.6],[10.10,8.4,10.2],[10.15,8.0,9.4],[10.18,4.8,6.4],[10.22,3.0,4.4],[10.26,1.8,3.6],[10.30,2.8,4.8],[10.35,2.0,3.8],[10.40,2.2,4.0],[10.45,1.4,3.0],[10.50,1.6,3.2],[10.55,1.2,2.6],[10.60,2.2,4.2],[10.65,2.0,4.0],[10.70,3.0,5.0],[10.75,3.4,5.0],[10.80,4.4,6.4],[10.85,5.6,7.4],[10.90,6.8,8.4],[10.93,8.6,10.2],[10.96,8.0,9.6],[10.98,3.0,4.4],[10.99,1.4,1.8]];

var velocitat131 = [[1.00,1.2,1.8],[1.03,0.8,1.4],[1.06,0.5,1.2],[1.10,0.5,1.1],[1.15,0.6,1.5],[1.20,0.6,1.4],[1.25,0.8,1.8],[1.30,1.0,2.4],[1.33,1.2,3.4],[1.37,1.8,4.4],[1.40,2.0,4.6],[1.45,2.2,5.0],[1.50,2.4,5.2],[1.55,2.0,5.6],[1.60,2.2,6.0],[1.63,1.8,4.6],[1.67,1.6,4.0],[1.70,2.2,4.4],[1.75,2.4,4.8],[1.78,1.8,3.0],[1.82,1.2,2.0],[1.86,1.2,1.8],[1.90,1.6,2.4],[1.94,2.4,3.2],[1.97,3.2,4.4],[2.00,5.0,6.8],[2.05,4.8,6.2],[2.10,4.8,6.0],[2.15,5.2,6.6],[2.20,5.2,6.4],[2.25,4.6,6.0],[2.30,3.0,5.2],[2.35,1.6,4.4],[2.40,1.6,4.6],[2.45,1.4,5.6],[2.50,2.0,5.4],[2.55,1.8,4.4],[2.60,2.0,4.8],[2.65,2.2,4.6],[2.70,2.4,4.8],[2.75,2.4,3.4],[2.80,1.4,2.2],[2.83,0.2,0.8],[2.87,2.2,3.6],[2.90,3.8,4.8],[2.95,4.8,5.8],[3.00,5.2,6.4],[3.05,5.2,6.8],[3.10,5.6,7.2],[3.15,6.2,8.8],[3.18,9.0,11.0],[3.22,7.4,10.6],[3.27,6.6,9.8],[3.30,6.0,8.4],[3.34,4.6,7.6],[3.38,2.0,6.0],[3.40,0.6,1.6],[3.44,1.6,5.6],[3.48,2.8,5.4],[3.52,3.6,6.4],[3.56,5.0,7.6],[3.60,8.0,9.4],[3.63,9.4,12.6],[3.66,10.4,13.6],[3.70,12.8,17.6],[3.74,11.8,14.6],[3.78,11.4,13.8],[3.82,11.6,14.2],[3.86,11.4,13.2],[3.90,11.0,13.4],[3.94,10.4,12.8],[3.97,8.2,10.4],[4.00,3.6,5.0],[4.03,7.0,11.0],[4.06,11.0,13.6],[4.10,9.6,12.8],[4.14,8.8,12.0],[4.18,8.6,11.4],[4.22,7.6,10.2],[4.26,7.8,9.6],[4.30,5.0,8.2],[4.34,4.4,7.6],[4.38,4.0,8.6],[4.42,5.0,6.8],[4.46,3.2,5.2],[4.50,2.6,4.2],[4.55,3.2,5.0],[4.60,3.0,5.2],[4.65,4.0,6.0],[4.70,4.2,6.4],[4.75,5.0,7.0],[4.80,4.8,7.4],[4.85,5.6,8.0],[4.90,6.0,8.6],[4.95,7.0,9.8],[5.00,7.4,10.4],[5.05,8.0,10.8],[5.10,7.8,11.4],[5.15,8.6,12.0],[5.20,9.0,12.2],[5.25,9.4,12.6],[5.30,9.6,13.0],[5.35,10.0,13.4],[5.40,10.4,14.0],[5.45,12.0,17.0],[5.48,11.0,14.6],[5.52,10.0,13.0],[5.56,9.6,12.4],[5.60,9.0,11.8],[5.65,8.4,10.8],[5.70,8.6,10.8],[5.75,7.8,10.2],[5.80,8.2,10.4],[5.85,7.6,9.8],[5.90,8.0,10.0],[5.95,7.2,9.4],[6.00,7.6,9.6],[6.05,7.0,9.0],[6.10,7.4,9.6],[6.15,7.0,9.2],[6.20,7.6,9.8],[6.25,7.2,9.6],[6.30,8.0,10.6],[6.35,7.6,10.2],[6.40,8.0,10.4],[6.45,7.8,10.0],[6.50,8.0,10.4],[6.53,6.0,8.0],[6.56,3.4,5.0],[6.60,1.6,2.8],[6.63,0.8,1.6],[6.66,0.4,1.0],[6.70,0.6,1.4],[6.75,0.5,1.2],[6.80,0.8,1.6],[6.85,0.6,1.4],[6.90,1.2,2.2],[6.95,1.8,3.0],[7.00,2.6,3.8],[7.05,2.0,3.0],[7.10,2.6,3.8],[7.15,4.0,5.6],[7.20,3.4,4.8],[7.25,4.6,6.2],[7.30,4.0,5.4],[7.35,5.0,6.6],[7.40,4.4,6.2],[7.45,4.6,6.2],[7.50,2.8,4.2],[7.55,2.0,3.2],[7.60,1.4,2.4],[7.65,0.8,1.6],[7.70,0.5,1.2],[7.75,0.7,1.4],[7.80,0.4,1.0],[7.85,0.8,1.8],[7.90,1.2,2.4],[7.95,1.8,3.0],[8.00,1.4,2.6],[8.05,0.8,1.6],[8.10,1.0,2.2],[8.15,0.8,1.6],[8.20,1.2,2.4],[8.25,0.9,1.8],[8.30,1.6,3.2],[8.35,1.0,2.2],[8.40,1.2,2.4],[8.45,0.8,1.6],[8.50,1.0,2.0],[8.55,0.6,1.4],[8.60,1.0,2.0],[8.65,0.8,1.6],[8.70,0.9,1.8],[8.75,0.6,1.4],[8.80,1.0,2.0],[8.85,1.4,2.6],[8.90,2.6,4.0],[8.95,3.8,5.6],[9.00,5.0,7.0],[9.05,4.0,5.8],[9.10,4.8,6.6],[9.15,4.2,6.0],[9.20,5.6,7.8],[9.25,4.8,6.6],[9.30,5.6,7.6],[9.35,5.0,6.8],[9.40,6.0,8.2],[9.45,5.2,7.0],[9.50,5.6,7.6],[9.55,3.4,5.0],[9.60,2.0,3.2],[9.65,1.0,1.8],[9.70,0.6,1.4],[9.75,0.8,1.8],[9.80,1.0,2.2],[9.85,1.4,2.6],[9.90,1.0,2.2],[9.95,1.4,2.8],[10.00,1.0,2.2],[10.05,0.8,1.8],[10.10,1.2,2.6],[10.15,1.0,2.2],[10.20,1.6,3.0],[10.25,1.0,2.2],[10.30,0.8,1.6],[10.35,1.2,2.6],[10.40,2.6,4.6],[10.45,2.0,3.4],[10.50,3.0,5.0],[10.55,2.4,4.0],[10.60,3.6,5.6],[10.65,3.0,4.6],[10.70,4.2,6.0],[10.75,3.8,5.4],[10.80,5.0,7.0],[10.85,4.8,6.4],[10.90,6.0,7.8],[10.92,5.0,6.6],[10.95,2.6,3.6],[10.98,1.2,2.0],[10.99,0.8,1.2]];

var llegenda1 = ["131m agl (Inst:748)"];
var llegenda3 = ["50m agl (Inst:1187)", "93m agl (Inst:437)", "131m agl (Inst:441)"];
var llegendaVent = ["93m agl (Inst:1673)", "131m agl (Inst:1430)"];
var etiquetesDireccio = ["North", "East", "South", "West", "North"];

// ------------------STYLE------------------
var color50 = "#6fc9ba";
var color93 = "#e2bf7c";
var color131 = "#c6e9e3";
var esquerra = 136;
var dreta = 1245.7;

var x = d3.scaleLinear().domain([0.9015, 11.103]).range([esquerra, dreta]);

var panells = [
    { top: 179.3, bottom: 375, domini: [882.95, 901.7], ticks: [885, 890, 895, 900], minor: [887.5, 892.5, 897.5],
      franja: [883.8, 884.6], titol: "Atm. Pressure (hPa)",
      series: [[pressio131, color131]], llegenda: llegenda1 },
    { top: 420.7, bottom: 675, domini: [-3.1, 104.66], ticks: [0, 25, 50, 75, 100], minor: [12.5, 37.5, 62.5, 87.5],
      franja: [1.5, 14], titol: "Rel. Humidity (%)",
      series: [[humitat50, color50], [humitat93, color93], [humitat131, color131]], llegenda: llegenda3 },
    { top: 720.7, bottom: 975, domini: [-5, 26.43], ticks: [-5, 0, 5, 10, 15, 20, 25], minor: [-2.5, 2.5, 7.5, 12.5, 17.5, 22.5],
      franja: [-3.54, 0], titol: "Atm. Temperature (\u00B0C)",
      series: [[temperatura50, color50], [temperatura93, color93], [temperatura131, color131]], llegenda: llegenda3 },
    { top: 1020.7, bottom: 1275, domini: [-72.9, 379.6], ticks: [0, 90, 180, 270, 360], minor: [-45, 45, 135, 225, 315],
      franja: [-53.4, -17.8], titol: "Wind direction", etiquetes: etiquetesDireccio,
      series: [[direccio93, color93], [direccio131, color131]], llegenda: llegendaVent, marques: marques93 },
    { top: 1320.7, bottom: 1575, domini: [-3.81, 20], ticks: [0, 5, 10, 15, 20], minor: [-2.5, 2.5, 7.5, 12.5, 17.5],
      franja: [-2.7, -0.9], titol: "Wind speed", unitat: true,
      series: [[velocitat93, color93], [velocitat131, color131]], llegenda: llegendaVent }
];

// ------------------FUNCTIONS------------------
// header with logo, titles and generation note
function dibuixarCapcalera(svg) {
    svg.append("text").attr("x", 14).attr("y", 85).attr("textLength", 163).attr("lengthAdjust", "spacing")
        .style("font-family", "'Open Sans', sans-serif").style("font-weight", "bold").style("font-size", "70px")
        .style("fill", "#464646").text("ICOS");
    svg.append("line").attr("x1", 193).attr("x2", 193).attr("y1", 17).attr("y2", 102)
        .style("stroke", "#555").style("stroke-width", 2);
    [[216.7, "#e5336d"], [231, "#2a9fe0"], [245.3, "#e5336d"]].forEach(function (p) {
        svg.append("circle").attr("cx", p[0]).attr("cy", 21.7).attr("r", 4.4).style("fill", p[1]);
    });
    ["Atmosphere", "Thematic", "Centre"].forEach(function (t, i) {
        svg.append("text").attr("x", 212).attr("y", 46.7 + i * 19.2)
            .style("font-weight", "bold").style("font-size", "16px")
            .style("fill", "#464646").text(t);
    });
    svg.append("text").attr("x", 750).attr("y", 64).attr("text-anchor", "middle")
        .style("font-size", "41px").text("HPB - Meteo - Last 10 days snapshot");
    svg.append("text").attr("x", 750).attr("y", 117).attr("text-anchor", "middle")
        .style("font-size", "30px").text("2025-05-01 - 2025-05-11");
    svg.append("text").attr("x", (esquerra + dreta) / 2).attr("y", 157).attr("text-anchor", "middle")
        .style("font-size", "30px").text("Ambient air (minute data)");
    svg.append("text").attr("x", 1483).attr("y", 31.5).attr("text-anchor", "end")
        .style("font-size", "21px").text("P0005.3 / plot generated everyday");
    svg.append("text").attr("x", 1483).attr("y", 55).attr("text-anchor", "end")
        .style("font-size", "21px").style("white-space", "pre").text("update  2025-05-11 05:14");
}

// one panel: grid, flag strip, series, frame, axes, title and legend
function dibuixarPanell(svg, p, n) {
    var y = d3.scaleLinear().domain(p.domini).range([p.bottom, p.top]);
    var g = svg.append("g");

    svg.append("clipPath").attr("id", "clip" + n).append("rect")
        .attr("x", esquerra).attr("y", p.top).attr("width", dreta - esquerra).attr("height", p.bottom - p.top);

    g.selectAll(".minor").data(p.minor).enter().append("line")
        .attr("x1", esquerra).attr("x2", dreta).attr("y1", d => y(d)).attr("y2", d => y(d))
        .style("stroke", "#f2f2f2").style("stroke-width", 1.1);
    g.selectAll(".major").data(p.ticks).enter().append("line")
        .attr("x1", esquerra).attr("x2", dreta).attr("y1", d => y(d)).attr("y2", d => y(d))
        .style("stroke", "#e9e9e9").style("stroke-width", 1.8);
    g.selectAll(".vert").data(dies).enter().append("line")
        .attr("x1", d => x(d)).attr("x2", d => x(d)).attr("y1", p.top).attr("y2", p.bottom)
        .style("stroke", "#c6c6c6").style("stroke-width", 2);

    // grey strip where flags would be drawn
    g.append("rect").attr("x", x(1)).attr("width", x(11) - x(1))
        .attr("y", y(p.franja[1])).attr("height", y(p.franja[0]) - y(p.franja[1]))
        .style("fill", "#000").style("fill-opacity", 0.15);

    var linia = d3.line().x(d => x(d[0])).y(d => y(d[1]));
    var banda = d3.area().x(d => x(d[0])).y0(d => y(d[1])).y1(d => y(d[2]));
    p.series.forEach(function (s) {
        var esBanda = s[0][0].length == 3;
        g.append("path").datum(s[0]).attr("d", esBanda ? banda : linia).attr("clip-path", "url(#clip" + n + ")")
            .style("fill", esBanda ? s[1] : "none").style("stroke", s[1])
            .style("stroke-width", esBanda ? 1.6 : 2.2).style("stroke-linejoin", "round");
    });

    if (p.marques) {
        var mig = (p.franja[0] + p.franja[1]) / 2;
        g.selectAll(".marca").data(p.marques).enter().append("rect")
            .attr("x", d => x(d) - 1.8).attr("width", 3.6)
            .attr("y", y(mig) - 5).attr("height", 10).style("fill", color93);
    }

    g.append("rect").attr("x", esquerra).attr("y", p.top)
        .attr("width", dreta - esquerra).attr("height", p.bottom - p.top)
        .style("fill", "none").style("stroke", "#333").style("stroke-width", 1.8);

    var eixY = d3.axisLeft(y).tickValues(p.ticks).tickSize(7).tickPadding(4);
    if (p.etiquetes) {
        eixY.tickFormat((d, i) => p.etiquetes[i]);
    } else {
        eixY.tickFormat(d => String(d));
    }
    var gy = g.append("g").attr("transform", "translate(" + esquerra + ",0)").call(eixY);
    var eixX = d3.axisBottom(x).tickValues(dies).tickFormat(d3.format("02d")).tickSize(7).tickPadding(3);
    var gx = g.append("g").attr("transform", "translate(0," + p.bottom + ")").call(eixX);
    [gy, gx].forEach(function (a) {
        a.select(".domain").remove();
        a.selectAll("line").style("stroke", "#333").style("stroke-width", 1.6);
        a.selectAll("text").style("font-size", "22.5px").style("fill", "#111")
            .style("font-family", "'Liberation Sans', Arial, sans-serif");
    });

    var cy = (p.top + p.bottom) / 2;
    var t = svg.append("text").attr("transform", "translate(41," + cy + ") rotate(-90)")
        .attr("text-anchor", "middle").style("font-size", "28px");
    if (p.unitat) {
        t.append("tspan").text("Wind speed (m.s");
        t.append("tspan").attr("dy", -11).style("font-size", "19px").text("\u22121");
        t.append("tspan").attr("dy", 11).text(")");
    } else {
        t.text(p.titol);
    }

    // legend, centred in the right margin
    var gl = svg.append("g");
    var pas = 29;
    var inici = cy - (p.llegenda.length - 1) * pas / 2;
    p.llegenda.forEach(function (nom, i) {
        var yy = inici + i * pas;
        var c = p.series[i][1];
        gl.append("line").attr("x1", 0).attr("x2", 23).attr("y1", yy).attr("y2", yy)
            .style("stroke", c).style("stroke-width", 2.4);
        gl.append("text").attr("x", 27).attr("y", yy).attr("dy", "0.35em")
            .style("font-size", "18px").text(nom);
    });
    var amplada = gl.node().getBBox().width;
    gl.attr("transform", "translate(" + (1368 - amplada / 2) + ",0)");
}

// bottom legend for flag marks
function dibuixarLlegendaFinal(svg) {
    svg.append("line").attr("x1", 182.7).attr("x2", 182.7).attr("y1", 1640).attr("y2", 1658)
        .style("stroke", "#4a8fd6").style("stroke-width", 2);
    svg.append("line").attr("x1", 182.7).attr("x2", 182.7).attr("y1", 1677).attr("y2", 1695)
        .style("stroke", "#222").style("stroke-width", 2);
    svg.append("text").attr("x", 232).attr("y", 1658).style("font-size", "26px").text("Invalid data");
    svg.append("text").attr("x", 232).attr("y", 1695).style("font-size", "26px").text("No data generated");
}

// ------------------MAIN------------------
window.onload = () => {
    var svg = d3.select("svg");
    svg.append("rect").attr("width", 1500).attr("height", 1725).style("fill", "#fff");
    dibuixarCapcalera(svg);
    panells.forEach(function (p, i) {
        dibuixarPanell(svg, p, i);
    });
    dibuixarLlegendaFinal(svg);
}
</script>
</body>
</html>
